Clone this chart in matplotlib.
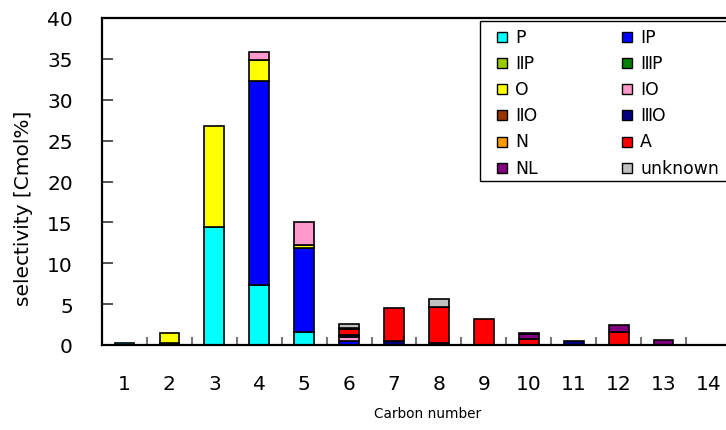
import numpy as np
import matplotlib
matplotlib.use("Agg")
import matplotlib.pyplot as plt
from matplotlib.patches import Rectangle

plt.rcParams['font.family'] = ['DejaVu Sans', 'Noto Sans CJK JP']

# carbon numbers on the x axis
carbon = [1, 2, 3, 4, 5, 6, 7, 8, 9, 10, 11, 12, 13, 14]

# selectivity [Cmol%] of each product group per carbon number
P       = [0.25, 0.20, 14.45, 7.35, 1.55, 0.00, 0.00, 0.00, 0.00, 0.00, 0.00, 0.00, 0.00, 0.00]
IP      = [0.00, 0.00, 0.00, 24.95, 10.35, 0.50, 0.00, 0.00, 0.00, 0.00, 0.00, 0.00, 0.00, 0.00]
IIP     = [0.00] * 14
IIIP    = [0.00] * 14
O       = [0.00, 1.25, 12.30, 2.60, 0.30, 0.00, 0.00, 0.00, 0.00, 0.00, 0.00, 0.00, 0.00, 0.00]
IO      = [0.00, 0.00, 0.00, 1.00, 2.90, 0.45, 0.00, 0.00, 0.00, 0.00, 0.00, 0.00, 0.00, 0.00]
IIO     = [0.00] * 14
IIIO    = [0.00, 0.00, 0.00, 0.00, 0.00, 0.25, 0.55, 0.20, 0.00, 0.00, 0.45, 0.00, 0.00, 0.00]
N       = [0.00] * 14
A       = [0.00, 0.00, 0.00, 0.00, 0.00, 0.70, 4.00, 4.50, 3.20, 0.70, 0.00, 1.60, 0.00, 0.00]
NL      = [0.00, 0.00, 0.00, 0.00, 0.00, 0.15, 0.00, 0.00, 0.00, 0.60, 0.00, 0.85, 0.60, 0.00]
unknown = [0.00, 0.00, 0.00, 0.00, 0.00, 0.50, 0.00, 0.90, 0.00, 0.20, 0.00, 0.00, 0.00, 0.00]

series_labels = ['P', 'ⅠP', 'ⅡP', 'ⅢP', 'O', 'ⅠO', 'ⅡO', 'ⅢO', 'N', 'A', 'NL', 'unknown']
series_values = [P, IP, IIP, IIIP, O, IO, IIO, IIIO, N, A, NL, unknown]
series_colors = ['#00FFFF', '#0000FF', '#99CC00', '#008000', '#FFFF00', '#FF99CC',
                 '#993300', '#000080', '#FF9900', '#FF0000', '#800080', '#C0C0C0']

W, H = 726, 431
fig = plt.figure(figsize=(W / 100, H / 100), dpi=100)
ax = fig.add_axes([102 / W, 85 / H, 629 / W, 327 / H])

x = np.array(carbon, dtype=float)
bottom = np.zeros(len(carbon))
for vals, color in zip(series_values, series_colors):
    v = np.array(vals, dtype=float)
    mask = v > 0
    if mask.any():
        ax.bar(x[mask], v[mask], width=0.44, bottom=bottom[mask], color=color,
               edgecolor='black', linewidth=1.2)
    bottom += v

ax.set_xlim(0.5, 14.5)
ax.set_ylim(0, 40)
ax.set_yticks(np.arange(0, 41, 5))
ax.set_xticks(carbon)
ax.set_xticks(np.arange(1.5, 14, 1), minor=True)

ax.tick_params(axis='y', direction='in', length=8, width=1.2, color='#333333',
               labelsize=14.5, pad=21)
ax.tick_params(axis='x', which='major', length=0, labelsize=14.5, pad=21)
ax.tick_params(axis='x', which='minor', direction='in', length=6, width=1.5,
               color='#777777')

for side in ('left', 'bottom', 'top', 'right'):
    ax.spines[side].set_linewidth(1.6)
    ax.spines[side].set_color('black')

ax.set_ylabel('selectivity [Cmol%]', fontsize=14.5)
ax.yaxis.set_label_coords(-0.11, 0.422)
ax.set_xlabel('Carbon number', fontsize=9.8)
ax.xaxis.set_label_coords(0.518, -0.187)

# legend: two columns, filled row by row
def fx(px):
    return px / W

def fy(py):
    return 1 - py / H

fig.add_artist(Rectangle((fx(480), fy(182)), fx(760) - fx(480), fy(22) - fy(182),
                         transform=fig.transFigure, facecolor='white',
                         edgecolor='black', linewidth=1.0, zorder=5))
col_marker_x = [497, 622]
col_text_x = [515, 640]
for i, (label, color) in enumerate(zip(series_labels, series_colors)):
    row, col = divmod(i, 2)
    yc = 37.7 + row * 26.2
    fig.add_artist(Rectangle((fx(col_marker_x[col]), fy(yc + 5)), fx(10), 10 / H,
                             transform=fig.transFigure, facecolor=color,
                             edgecolor='black', linewidth=1.0, zorder=6))
    fig.text(fx(col_text_x[col]), fy(yc), label, fontsize=12.4,
             ha='left', va='center', zorder=6)

fig.savefig('out.png', dpi=100)
